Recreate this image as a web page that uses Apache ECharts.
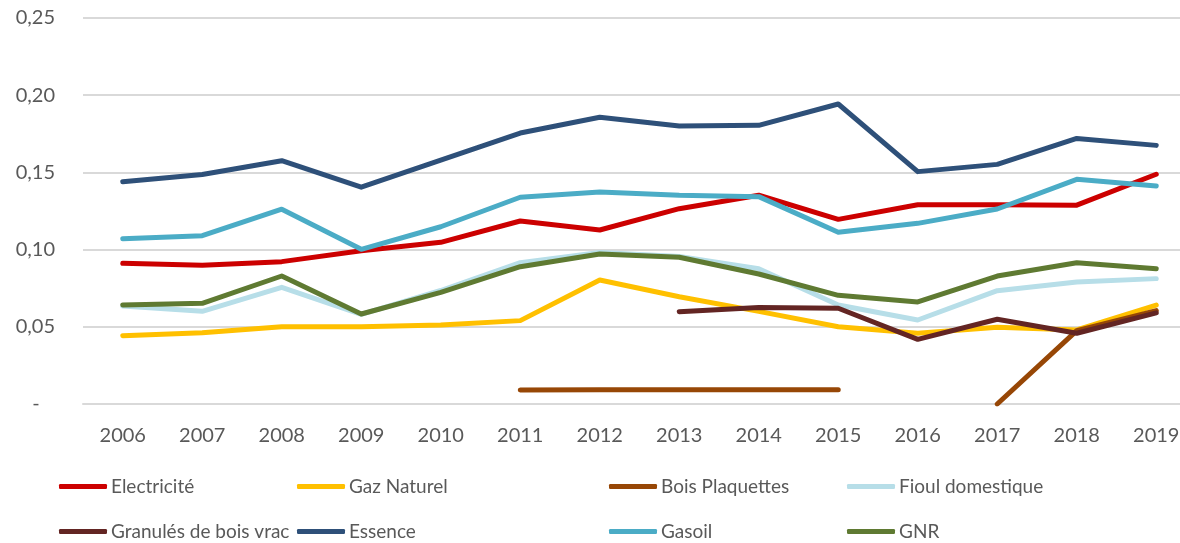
<!DOCTYPE html>
<html lang="fr">
<head>
  <meta charset="UTF-8">
  <title>Prix</title>
  <script src="https://cdn.jsdelivr.net/npm/echarts@6/dist/echarts.min.js"></script>
  <style>
    html, body { margin: 0; padding: 0; background: #fff; }
    #chart { width: 1180px; height: 543px; }
  </style>
</head>
<body>
  <div id="chart"></div>
  <script>
    // données
    var years = ['2006','2007','2008','2009','2010','2011','2012','2013','2014','2015','2016','2017','2018','2019'];
    var electricite = [0.0911, 0.0898, 0.0922, 0.0993, 0.1047, 0.1185, 0.1127, 0.1265, 0.1352, 0.1196, 0.1290, 0.1290, 0.1288, 0.1488];
    var gazNaturel  = [0.0442, 0.0462, 0.0500, 0.0500, 0.0512, 0.0540, 0.0803, 0.0695, 0.0600, 0.0500, 0.0458, 0.0497, 0.0480, 0.0641];
    var boisPlaq    = [null, null, null, null, null, 0.0091, 0.0092, 0.0092, 0.0092, 0.0092, null, 0, 0.0475, 0.0605];
    var fioul       = [0.0635, 0.0600, 0.0756, 0.0580, 0.0735, 0.0915, 0.0982, 0.0955, 0.0876, 0.0641, 0.0544, 0.0734, 0.0790, 0.0812];
    var granules    = [null, null, null, null, null, null, null, 0.0598, 0.0625, 0.0620, 0.0419, 0.0549, 0.0458, 0.0590];
    var essence     = [0.1440, 0.1486, 0.1576, 0.1404, 0.1580, 0.1755, 0.1857, 0.1800, 0.1805, 0.1943, 0.1505, 0.1552, 0.1720, 0.1675];
    var gasoil      = [0.1070, 0.1090, 0.1262, 0.1002, 0.1148, 0.1339, 0.1373, 0.1352, 0.1343, 0.1112, 0.1170, 0.1263, 0.1455, 0.1412];
    var gnr         = [0.0641, 0.0652, 0.0829, 0.0583, 0.0723, 0.0889, 0.0971, 0.0950, 0.0842, 0.0704, 0.0661, 0.0829, 0.0915, 0.0876];

    var names  = ['Electricité', 'Gaz Naturel', 'Bois Plaquettes', 'Fioul domestique', 'Granulés de bois vrac', 'Essence', 'Gasoil', 'GNR'];
    var values = [electricite, gazNaturel, boisPlaq, fioul, granules, essence, gasoil, gnr];
    var colors = ['#CC0000', '#FFC000', '#974706', '#B7DEE8', '#632523', '#2E5079', '#4BACC6', '#5F7A32'];

    var chart = echarts.init(document.getElementById('chart'));

    // une légende par entrée pour placer les colonnes comme dans l'original
    var legendPos = [
      [59, 477], [297, 477], [609, 477], [847, 477],
      [59, 522], [297, 522], [609, 522], [847, 522]
    ];
    var legends = names.map(function (n, i) {
      return {
        data: [n],
        left: legendPos[i][0],
        top: legendPos[i][1],
        icon: 'roundRect',
        itemWidth: 48,
        itemHeight: 5,
        itemGap: 0,
        padding: 0,
        textStyle: { fontFamily: 'Lato', fontSize: 19, color: '#595959', padding: [0, 0, 0, -1] }
      };
    });

    var series = names.map(function (n, i) {
      return {
        name: n,
        type: 'line',
        data: values[i],
        showSymbol: false,
        symbol: 'none',
        connectNulls: false,
        color: colors[i],
        lineStyle: { width: 5, color: colors[i], cap: 'round', join: 'round' },
        emphasis: { disabled: true }
      };
    });

    chart.setOption({
      animation: false,
      legend: legends,
      grid: { left: 83, right: -16, top: 18, bottom: 139, outerBoundsMode: 'none' },
      xAxis: {
        type: 'category',
        data: years,
        boundaryGap: true,
        axisLine: { show: true, lineStyle: { color: '#D9D9D9', width: 2 } },
        axisTick: { show: false },
        axisLabel: { fontFamily: 'Lato', fontSize: 20, color: '#595959', margin: 22 }
      },
      yAxis: {
        type: 'value',
        min: 0,
        max: 0.25,
        interval: 0.05,
        axisLine: { show: false },
        axisTick: { show: false },
        splitLine: { lineStyle: { color: '#D9D9D9', width: 2 } },
        axisLabel: {
          fontFamily: 'Lato', fontSize: 20, color: '#595959', margin: 28,
          formatter: function (v) {
            if (v === 0) return '-   ';
            return v.toFixed(2).replace('.', ',');
          }
        }
      },
      series: series
    });
  </script>
</body>
</html>
